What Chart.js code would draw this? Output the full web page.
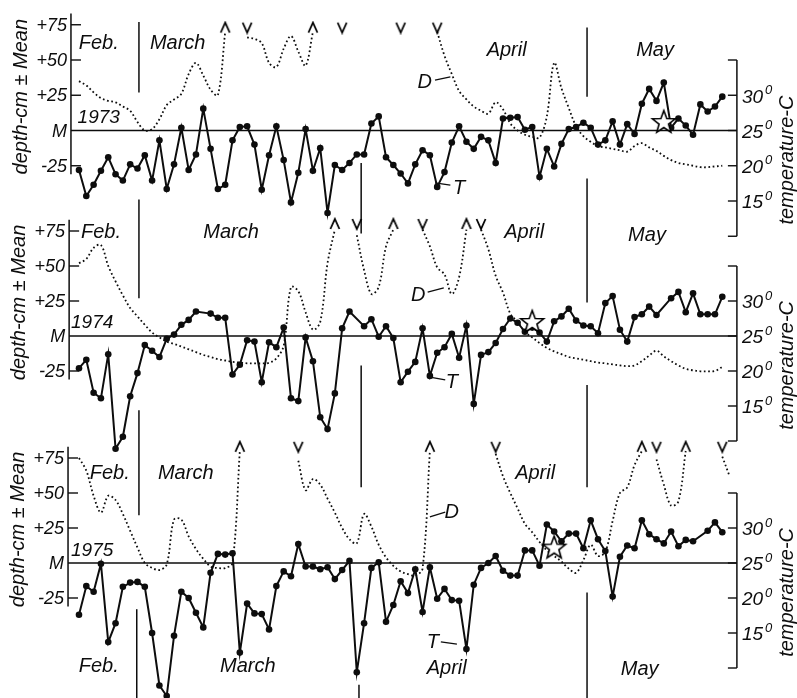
<!DOCTYPE html>
<html>
<head>
<meta charset="utf-8">
<title>Depth and temperature, 1973-1975</title>
<script src="https://cdn.jsdelivr.net/npm/chart.js@4.4.1/dist/chart.umd.min.js"></script>
<style>
html,body{margin:0;padding:0;background:#fff;}
#box{position:relative;width:797px;height:698px;background:#fff;}
canvas{display:block;}
</style>
</head>
<body>
<div id="box"><canvas id="chart" width="797" height="698"></canvas></div>
<script>
// ================= DATA =================
const years = ['1973', '1974', '1975'];
// daily observations starting Feb 20 (index 0) – index 69 = Apr 30
const monthNames = ['Feb', 'Mar', 'Apr', 'May'];
const monthLengths = [28, 31, 30, 31];

// water temperature T (deg C), one value per day, null = no reading
const tempT73 = [19.4,15.7,17.3,19.3,21.2,18.8,17.9,20.2,19.6,21.5,
  17.9,23.6,16.7,20.2,25.4,19.4,21.6,28.1,22.4,16.7,
  17.3,23.6,25.5,25.6,23.0,16.6,21.5,25.6,20.8,14.8,
  19.0,25.2,19.3,22.5,13.3,20.1,19.4,20.4,21.6,21.6,
  26.0,27.0,21.2,20.1,18.9,17.5,20.2,22.2,21.5,17.0,
  19.1,23.3,25.6,23.4,22.4,24.1,23.6,20.4,26.7,26.8,
  26.9,25.1,25.5,18.4,22.4,19.9,23.1,25.2,25.5,26.1,
  25.4,23.0,23.6,26.3,23.0,25.9,24.5,28.8,30.9,29.2,
  31.8,25.4,26.7,25.7,24.4,28.7,27.7,28.4,29.8];
const tempT74 = [20.4,21.6,16.9,16.1,22.4,8.9,10.6,16.4,19.7,23.7,
  22.9,22.0,24.6,25.2,26.6,27.3,28.5,null,28.2,27.6,
  27.6,19.5,20.9,24.4,24.2,18.4,24.1,23.4,26.2,16.1,
  15.7,24.8,21.4,13.4,11.7,16.8,26.1,28.5,null,26.4,
  27.4,24.9,26.4,24.7,18.4,19.9,21.3,26.1,19.3,22.6,
  23.4,25.3,21.9,26.5,15.3,22.3,22.7,24.0,26.0,27.5,
  26.9,25.6,26.2,25.5,24.2,27.1,27.8,28.9,27.2,26.5,
  26.4,25.4,29.7,30.7,25.9,24.2,27.7,28.1,29.2,28.0,
  null,30.4,31.3,28.4,31.1,28.1,28.1,28.1,30.6];
const tempT75 = [17.6,21.7,20.9,24.9,13.7,16.4,21.6,22.2,22.3,21.6,
  15.0,7.5,6.0,14.6,20.9,20.0,17.9,15.8,23.6,26.3,
  26.2,26.4,12.2,19.2,17.8,17.7,15.5,21.7,23.8,23.1,
  27.7,24.5,24.5,24.1,24.4,22.7,24.0,25.3,9.4,16.4,
  24.3,25.1,16.6,19.0,22.4,20.7,24.1,18.0,24.4,19.9,
  21.3,19.7,19.6,12.7,21.9,24.3,25.0,26.0,23.9,23.2,
  23.2,26.8,26.8,24.6,30.5,29.5,28.1,29.2,29.2,27.1,
  31.1,28.4,26.7,20.2,25.9,27.5,27.1,31.1,29.1,28.4,
  27.8,29.5,27.4,28.3,28.1,null,29.6,30.8,29.4];

// water depth D (cm above/below mean), null = off the top of the scale
const depthD73 = [35,32,27,23,21,20,17,14,6,0,
  1,8,18,22,26,40,48,39,29,25,
  70,null,null,66,65,62,48,45,58,67,
  56,46,70,null,null,null,null,null,null,null,
  null,null,null,null,null,null,null,null,null,70,
  53,40,28,22,17,14,12,20,15,5,
  0,-3,-4.5,-5,10,48,30,16,3,-4,
  -8,-11,-12,-13,-14,-15,-11,-9,-12,-14.5,
  -18,-21,-23,-24,-25,-26,-26,-25.5,-25];
const depthD74 = [52,55,63,65,50,39,29,20,14,8,
  2.5,-1,-4,-5.7,-7.5,-9.5,-11.5,-13.5,-15,-16.5,
  -17.5,-18.5,-19,-19.5,-19.6,-19.6,-19.2,-16,-7,35,
  32,17,4.5,10,52,76,null,null,72,47,
  30,35,64,76,null,null,null,76,64,49,
  44,30,42,76,null,76,62,43,31,16,
  10,3,-1,-5,-8.5,-11,-13,-15,-16,-17,
  -18,-19,-19.5,-20.3,-21,-21.5,-21,-18,-14,-10.5,
  -14.5,-18,-21,-23.5,-24.5,-25.2,-25.2,-25,-22];
const depthD75 = [75,66,48,36,48,45,35,23,11,0,
  -3.5,-5,-1,31,31,19,10,3,-2.5,-3.6,
  -3.6,0,80,null,null,null,null,null,null,null,
  73,52,60,56,46,36,25,17,14,35,
  26,13,4,-2,-6,-8,-9,-4,80,null,
  null,null,null,null,null,null,null,78,62,50,
  39,28,22,15,9,5,1,-4,-7,2,
  13,5,8,30,50,54,70,80,null,74,
  56,41,44,80,null,null,null,null,76,62];

// days where D leaves the top of the scale (^) and comes back (v)
const upDays73 = [20, 32];
const downDays73 = [23, 36, 44, 49];
const upDays74 = [35, 43, 53];
const downDays74 = [38, 47, 55];
const upDays75 = [22, 48, 77, 83];
const downDays75 = [30, 57, 79, 88];
const offScaleDepth = [73, 80, 83];

// star marks (day index, depth cm)
const starDays = [80, 62, 65];
const starDepths = [6, 10, 11];

// axis ticks
const depthTicks = [75, 50, 25, 0, -25];
const depthTickText = ['+75', '+50', '+25', 'M', '-25'];
const tempTicks = [30, 25, 20, 15];

// ================= LAYOUT (not data) =================
const W = 797, H = 698;
const X_ORIGIN = 79, PX_PER_DAY = 7.31;
const PANEL_M = [130.5, 336, 563];
const PX_PER_CM = [1.41, 1.4, 1.4];
const INK = '#0d0d0d';
const FAM = '"Liberation Sans", Arial, sans-serif';
const axisLeftDay = [-1.1, -1.35, -1.5];
const axisRightDay = 90;
const depthAxisSpan = [83, -31];
const tempAxisSpan = [35, 10];
// [panel, day, depthFrom, depthTo]
const dividers = [
  [0, 8.2, 77, 27], [0, 8.2, -49, -119], [0, 38.6, -23, -73], [0, 69.5, 73, 24], [0, 69.5, -34, -122],
  [1, 8.2, -53, -128], [1, 38.6, -21, -108], [1, 69.5, -35, -108],
  [2, 7.9, -33, -100], [2, 38.3, -87, -100], [2, 69.5, -21, -100]
];
// [panel, day, depth, text, size]
const textLabels = [
  [0, 2.7, 62, 'Feb.', 20], [0, 13.5, 62, 'March', 20], [0, 58.5, 57, 'April', 20], [0, 78.8, 57, 'May', 20],
  [0, 2.7, 9, '1973', 19], [0, 47.3, 34, 'D', 20], [0, 52.0, -41, 'T', 20],
  [1, 3.0, 74, 'Feb.', 20], [1, 20.8, 74, 'March', 20], [1, 60.9, 74, 'April', 20], [1, 77.7, 72, 'May', 20],
  [1, 1.8, 9.3, '1974', 19], [1, 46.4, 29.3, 'D', 20], [1, 51.0, -33, 'T', 20],
  [2, 4.2, 64, 'Feb.', 20], [2, 14.6, 64, 'March', 20], [2, 62.4, 64, 'April', 20],
  [2, 2.7, -74, 'Feb.', 20], [2, 23.1, -74, 'March', 20], [2, 50.3, -75, 'April', 20], [2, 76.7, -76, 'May', 20],
  [2, 1.8, 8.6, '1975', 19], [2, 51.0, 36.4, 'D', 20], [2, 48.4, -57, 'T', 20]
];
// [panel, day1, depth1, day2, depth2]
const leaders = [
  [0, 48.7, 35.8, 50.8, 38], [0, 48.7, -37.2, 50.8, -38.7],
  [1, 47.7, 31.4, 49.9, 34.3], [1, 48.0, -29.3, 50.1, -31.4],
  [2, 48.0, 32.9, 50.1, 36.4], [2, 49.5, -56.4, 51.7, -57.9]
];

// ================= GLYPHS =================
function caret(up) {
  const c = document.createElement('canvas');
  c.width = 14; c.height = 14;
  const g = c.getContext('2d');
  g.strokeStyle = '#000'; g.lineWidth = 1.8; g.lineJoin = 'miter';
  g.beginPath();
  if (up) { g.moveTo(2.5, 12); g.lineTo(7, 2); g.lineTo(11.5, 12); }
  else { g.moveTo(2.5, 2); g.lineTo(7, 12); g.lineTo(11.5, 2); }
  g.stroke();
  return c;
}
function starGlyph() {
  const c = document.createElement('canvas');
  c.width = 28; c.height = 28;
  const g = c.getContext('2d');
  g.beginPath();
  for (let i = 0; i < 10; i++) {
    const r = i % 2 === 0 ? 12 : 5;
    const a = -Math.PI / 2 + i * Math.PI / 5;
    const px = 14 + r * Math.cos(a), py = 14.5 + r * Math.sin(a);
    if (i === 0) g.moveTo(px, py); else g.lineTo(px, py);
  }
  g.closePath();
  g.fillStyle = '#fff'; g.fill();
  g.strokeStyle = '#000'; g.lineWidth = 1.6; g.stroke();
  return c;
}
const caretUp = caret(true), caretDown = caret(false), starImg = starGlyph();

// ================= CHART =================
const dates = [];
(function () { let m = 0, d = 20; for (let i = 0; i < 90; i++) { dates.push(monthNames[m] + ' ' + d); d++; if (d > monthLengths[m]) { d = 1; m++; } } })();

const tempSeries = [tempT73, tempT74, tempT75];
const depthSeries = [depthD73, depthD74, depthD75];
const upDays = [upDays73, upDays74, upDays75];
const downDays = [downDays73, downDays74, downDays75];

const scales = {
  x: { type: 'linear', display: false, bounds: 'data', min: -X_ORIGIN / PX_PER_DAY, max: (W - X_ORIGIN) / PX_PER_DAY }
};
const datasets = [];
for (let k = 0; k < 3; k++) {
  const dMax = PANEL_M[k] / PX_PER_CM[k], dMin = (PANEL_M[k] - H) / PX_PER_CM[k];
  scales['d' + k] = { type: 'linear', display: false, bounds: 'data', min: dMin, max: dMax };
  scales['t' + k] = { type: 'linear', display: false, bounds: 'data', min: 25 + dMin / 5, max: 25 + dMax / 5 };
  datasets.push({
    label: 'T ' + years[k], data: tempSeries[k].map((v, i) => ({ x: i, y: v })),
    yAxisID: 't' + k, borderColor: INK, backgroundColor: INK, borderWidth: 2,
    pointRadius: 3.3, pointHoverRadius: 3.3, pointBorderWidth: 0, pointBackgroundColor: INK,
    spanGaps: true, tension: 0, order: 1
  });
  datasets.push({
    label: 'D ' + years[k], data: depthSeries[k].map((v, i) => ({ x: i, y: v })),
    yAxisID: 'd' + k, borderColor: INK, borderWidth: 1.8, borderDash: [1.7, 2.6],
    pointRadius: 0, spanGaps: false, tension: 0.35, order: 2, fill: false
  });
  datasets.push({
    label: 'D off scale ' + years[k], data: upDays[k].map(i => ({ x: i, y: offScaleDepth[k] })),
    yAxisID: 'd' + k, showLine: false, pointStyle: caretUp, pointRadius: 7, order: 0
  });
  datasets.push({
    label: 'D back on scale ' + years[k], data: downDays[k].map(i => ({ x: i, y: offScaleDepth[k] })),
    yAxisID: 'd' + k, showLine: false, pointStyle: caretDown, pointRadius: 7, order: 0
  });
  datasets.push({
    label: 'star ' + years[k], data: [{ x: starDays[k], y: starDepths[k] }],
    yAxisID: 'd' + k, showLine: false, pointStyle: starImg, pointRadius: 14, order: 0
  });
}

function seg(ctx, x1, y1, x2, y2, w) {
  ctx.lineWidth = w; ctx.beginPath(); ctx.moveTo(x1, y1); ctx.lineTo(x2, y2); ctx.stroke();
}

const decorations = {
  id: 'decorations',
  beforeDatasetsDraw(chart) {
    const ctx = chart.ctx, xs = chart.scales.x;
    ctx.save();
    ctx.strokeStyle = INK; ctx.fillStyle = INK; ctx.lineCap = 'butt';
    for (let k = 0; k < 3; k++) {
      const ds = chart.scales['d' + k], ts = chart.scales['t' + k];
      const xl = xs.getPixelForValue(axisLeftDay[k]), xr = xs.getPixelForValue(axisRightDay);
      const y0 = ds.getPixelForValue(0);
      seg(ctx, xl, y0, xr, y0, 1.4);
      // left axis
      seg(ctx, xl, ds.getPixelForValue(depthAxisSpan[0]), xl, ds.getPixelForValue(depthAxisSpan[1]), 1.5);
      ctx.font = 'italic 18px ' + FAM; ctx.textAlign = 'right'; ctx.textBaseline = 'middle';
      depthTicks.forEach((v, j) => {
        const y = ds.getPixelForValue(v);
        if (v !== 0) seg(ctx, xl, y, xl + 10, y, 1.4);
        ctx.fillText(depthTickText[j], xl - 4, y + 1);
      });
      // right axis
      const yt = ts.getPixelForValue(tempAxisSpan[0]), yb = ts.getPixelForValue(tempAxisSpan[1]);
      seg(ctx, xr, yt, xr, yb, 1.5);
      seg(ctx, xr - 9, yt, xr, yt, 1.4);
      seg(ctx, xr - 9, yb, xr, yb, 1.4);
      tempTicks.forEach(v => {
        const y = ts.getPixelForValue(v);
        seg(ctx, xr - 9, y, xr, y, 1.4);
        ctx.textAlign = 'left'; ctx.textBaseline = 'middle';
        ctx.font = 'italic 19px ' + FAM;
        const s = String(v);
        ctx.fillText(s, xr + 5, y + 2);
        const w = ctx.measureText(s).width;
        ctx.font = 'italic 13px ' + FAM;
        ctx.fillText('0', xr + 7 + w, y - 5);
      });
      // titles
      ctx.font = 'italic 20px ' + FAM; ctx.textAlign = 'center'; ctx.textBaseline = 'middle';
      ctx.save(); ctx.translate(xl - 50, ds.getPixelForValue(24)); ctx.rotate(-Math.PI / 2);
      ctx.fillText('depth-cm \u00b1 Mean', 0, 0); ctx.restore();
      ctx.save(); ctx.translate(xr + 51, ts.getPixelForValue(20.8)); ctx.rotate(-Math.PI / 2);
      ctx.fillText('temperature-C', 0, 0); ctx.restore();
    }
    // month dividers
    dividers.forEach(([k, day, a, b]) => {
      const ds = chart.scales['d' + k], x = xs.getPixelForValue(day);
      seg(ctx, x, ds.getPixelForValue(a), x, ds.getPixelForValue(b), 1.5);
    });
    // leader lines
    leaders.forEach(([k, d1, v1, d2, v2]) => {
      const ds = chart.scales['d' + k];
      seg(ctx, xs.getPixelForValue(d1), ds.getPixelForValue(v1), xs.getPixelForValue(d2), ds.getPixelForValue(v2), 1.3);
    });
    ctx.restore();
  },
  afterDatasetsDraw(chart) {
    const ctx = chart.ctx, xs = chart.scales.x;
    ctx.save();
    ctx.fillStyle = INK; ctx.textAlign = 'center'; ctx.textBaseline = 'middle';
    textLabels.forEach(([k, day, v, s, size]) => {
      const ds = chart.scales['d' + k];
      ctx.font = 'italic ' + size + 'px ' + FAM;
      ctx.fillText(s, xs.getPixelForValue(day), ds.getPixelForValue(v));
    });
    ctx.restore();
  }
};

new Chart(document.getElementById('chart'), {
  type: 'line',
  data: { labels: dates, datasets },
  options: {
    responsive: false, animation: false, devicePixelRatio: 1, events: [],
    layout: { padding: 0, autoPadding: false },
    plugins: { legend: { display: false }, tooltip: { enabled: false }, title: { display: false } },
    scales
  },
  plugins: [decorations]
});
</script>
</body>
</html>
